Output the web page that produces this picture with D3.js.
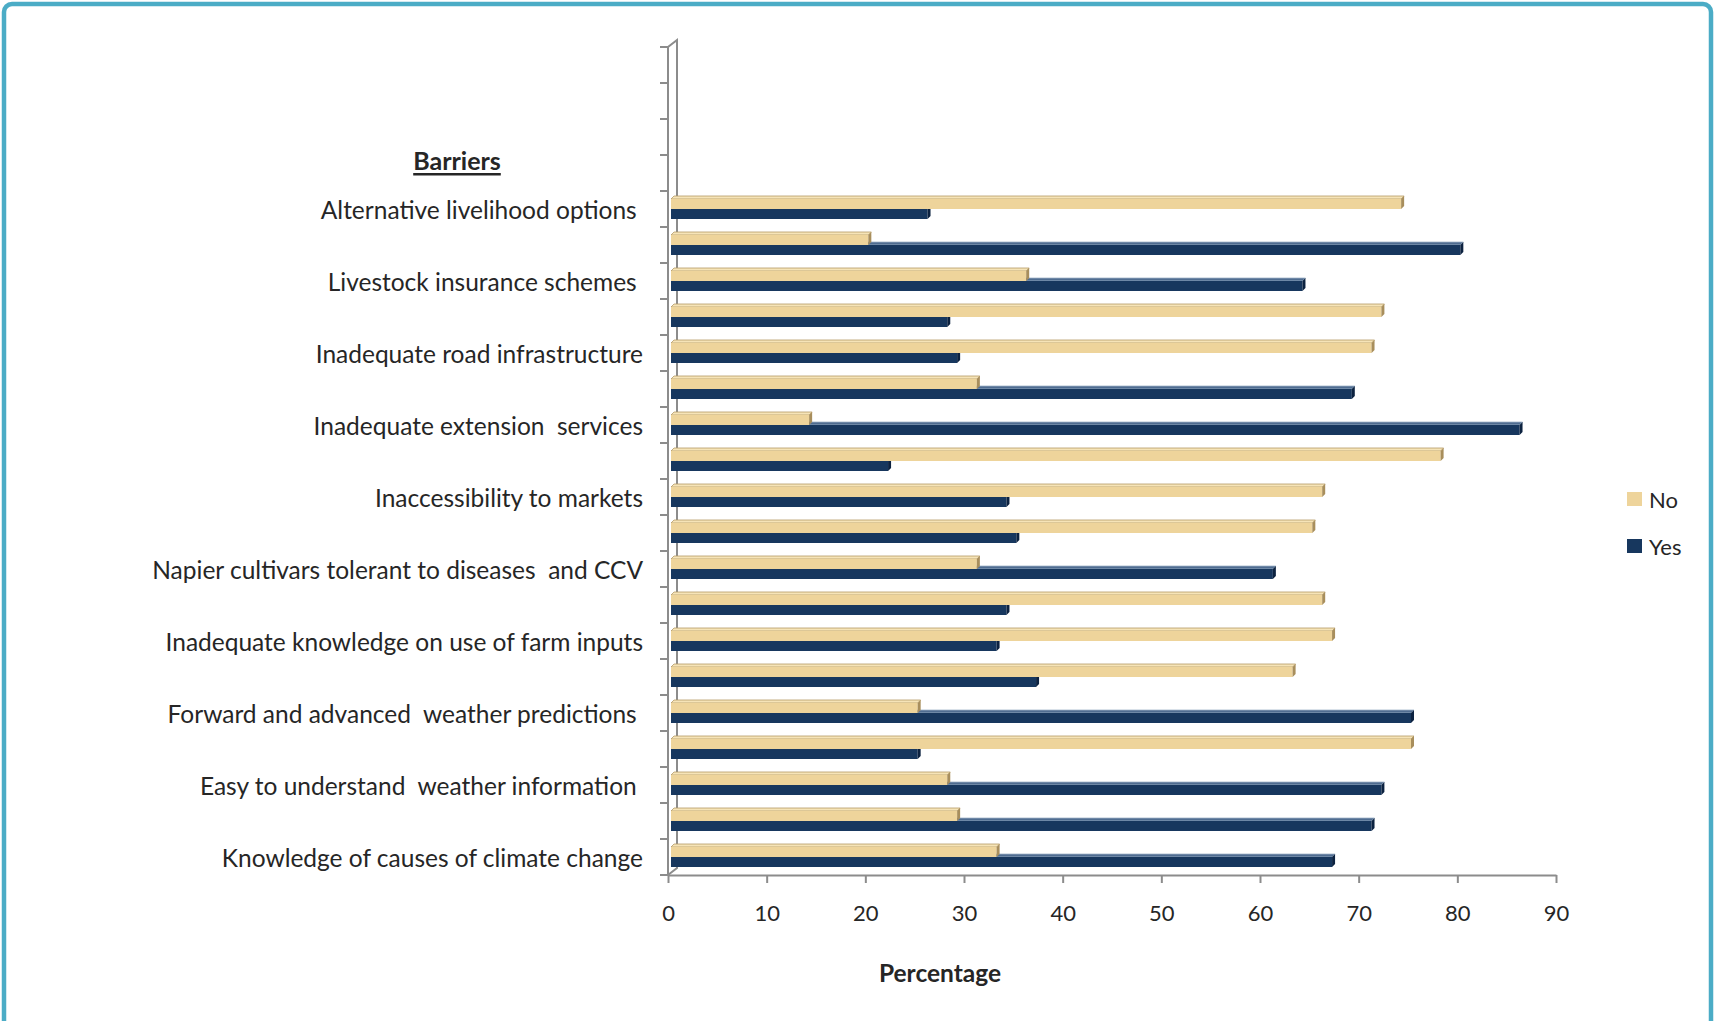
<!DOCTYPE html>
<html>
<head>
<meta charset="utf-8">
<script src="https://cdn.jsdelivr.net/npm/d3@7"></script>
<style>
  html, body { margin: 0; padding: 0; background: #ffffff; }
  svg { display: block; }
  text { font-family: Lato, "Open Sans", sans-serif; fill: #262626; white-space: pre; }
</style>
</head>
<body>
<svg id="chart" width="1715" height="1021"></svg>
<script>
// Barrier categories, listed from the bottom row upward; unlabeled rows are blank
const categories = [
  "Knowledge of causes of climate change",
  "",
  "Easy to understand  weather information ",
  "",
  "Forward and advanced  weather predictions ",
  "",
  "Inadequate knowledge on use of farm inputs",
  "",
  "Napier cultivars tolerant to diseases  and CCV",
  "",
  "Inaccessibility to markets",
  "",
  "Inadequate extension  services",
  "",
  "Inadequate road infrastructure",
  "",
  "Livestock insurance schemes ",
  "",
  "Alternative livelihood options ",
  "", "", "", ""
];
// Percentage answering "No" / "Yes" per row (bottom to top)
const noValues  = [33, 29, 28, 75, 25, 63, 67, 66, 31, 65, 66, 78, 14, 31, 71, 72, 36, 20, 74];
const yesValues = [67, 71, 72, 25, 75, 37, 33, 34, 61, 35, 34, 22, 86, 69, 29, 28, 64, 80, 26];
const xTicks = [0, 10, 20, 30, 40, 50, 60, 70, 80, 90];
const seriesNames = ["No", "Yes"];

const svg = d3.select("#chart");

// frame around the figure
svg.append("rect")
  .attr("x", 4).attr("y", 4)
  .attr("width", 1707).attr("height", 1060)
  .attr("rx", 8)
  .attr("fill", "#ffffff")
  .attr("stroke", "#4BACC6")
  .attr("stroke-width", 4.5);

const x = d3.scaleLinear().domain([0, 90]).range([668, 1556]);
const keys = categories.map((d, i) => String(i));
const y = d3.scaleBand().domain(keys.slice().reverse()).range([47, 875]).paddingInner(0);
const bw = y.bandwidth();

const colors = {
  No:  { front: "#EED49B", top: "#F6E4B8", side: "#A88E5C", edge: "#B59A66" },
  Yes: { front: "#17375E", top: "#4F6C90", side: "#0C2240", edge: "#9FB2C8" }
};

const depth = 3;     // 3-D offset of the bars
const barH = 10;     // height of a bar's front face

// 3-D wall edges along the value axis
const axisColor = "#8C8C8C";
const x0 = x(0);
const yTop = y.range()[0], yBot = y.range()[1];
const wall = svg.append("g").attr("fill", "none").attr("stroke", axisColor).attr("stroke-width", 2);
wall.append("path").attr("d", `M${x0},${yBot} L${x0},${yTop} L${x0 + 9},${yTop - 7} L${x0 + 9},${yBot - 7} L${x0},${yBot}`);

// category boundary ticks
const boundaries = keys.map(k => y(k)).concat([yBot]);
svg.append("g").selectAll("line").data(boundaries).join("line")
  .attr("x1", x0 - 8).attr("x2", x0)
  .attr("y1", d => d).attr("y2", d => d)
  .attr("stroke", axisColor).attr("stroke-width", 2);

// value axis
const xAxis = svg.append("g")
  .attr("transform", `translate(0,${yBot})`)
  .call(d3.axisBottom(x).tickValues(xTicks).tickSize(8).tickPadding(22).tickSizeOuter(0));
xAxis.select(".domain").attr("stroke", axisColor).attr("stroke-width", 2);
xAxis.selectAll(".tick line").attr("stroke", axisColor).attr("stroke-width", 2);
xAxis.selectAll(".tick text")
  .style("font-family", "Lato, sans-serif").style("font-size", "22px").attr("fill", "#262626");

// one 3-D bar: front face, top face and right side face
function bar(g, v, yFront, c) {
  const xs = x(0) + depth, xe = x(v) + depth;
  g.append("path")
    .attr("d", `M${xs},${yFront} L${xs + depth},${yFront - depth} L${xe + depth},${yFront - depth} L${xe},${yFront} Z`)
    .attr("fill", c.top).attr("stroke", c.edge).attr("stroke-width", 0.8);
  g.append("rect")
    .attr("x", xs).attr("y", yFront).attr("width", xe - xs).attr("height", barH)
    .attr("fill", c.front);
  g.append("path")
    .attr("d", `M${xe},${yFront} L${xe + depth},${yFront - depth} L${xe + depth},${yFront + barH - depth} L${xe},${yFront + barH} Z`)
    .attr("fill", c.side);
}

const bars = svg.append("g");
noValues.forEach((nv, i) => {
  const c = y(String(i)) + bw / 2;
  bar(bars, yesValues[i], c, colors.Yes);
  bar(bars, nv, c - barH, colors.No);
});

// category labels
svg.append("g").selectAll("text").data(categories).join("text")
  .attr("x", 643)
  .attr("y", (d, i) => y(String(i)) + bw / 2)
  .attr("text-anchor", "end")
  .attr("dominant-baseline", "central")
  .style("font-size", "24.5px")
  .text(d => d);

// axis titles
svg.append("text")
  .attr("x", 457).attr("y", 160)
  .attr("text-anchor", "middle").attr("dominant-baseline", "central")
  .style("font-size", "25px").style("font-weight", "bold")
  .style("text-decoration", "underline")
  .text("Barriers");

svg.append("text")
  .attr("x", 940).attr("y", 972)
  .attr("text-anchor", "middle").attr("dominant-baseline", "central")
  .style("font-size", "24.5px").style("font-weight", "bold")
  .text("Percentage");

// legend
const legend = svg.append("g");
seriesNames.forEach((name, i) => {
  const ly = 499 + i * 47;
  legend.append("rect")
    .attr("x", 1627).attr("y", ly - 7).attr("width", 15).attr("height", 14)
    .attr("fill", colors[name].front);
  legend.append("text")
    .attr("x", 1649).attr("y", ly)
    .attr("dominant-baseline", "central")
    .style("font-size", "22px")
    .text(name);
});
</script>
</body>
</html>
